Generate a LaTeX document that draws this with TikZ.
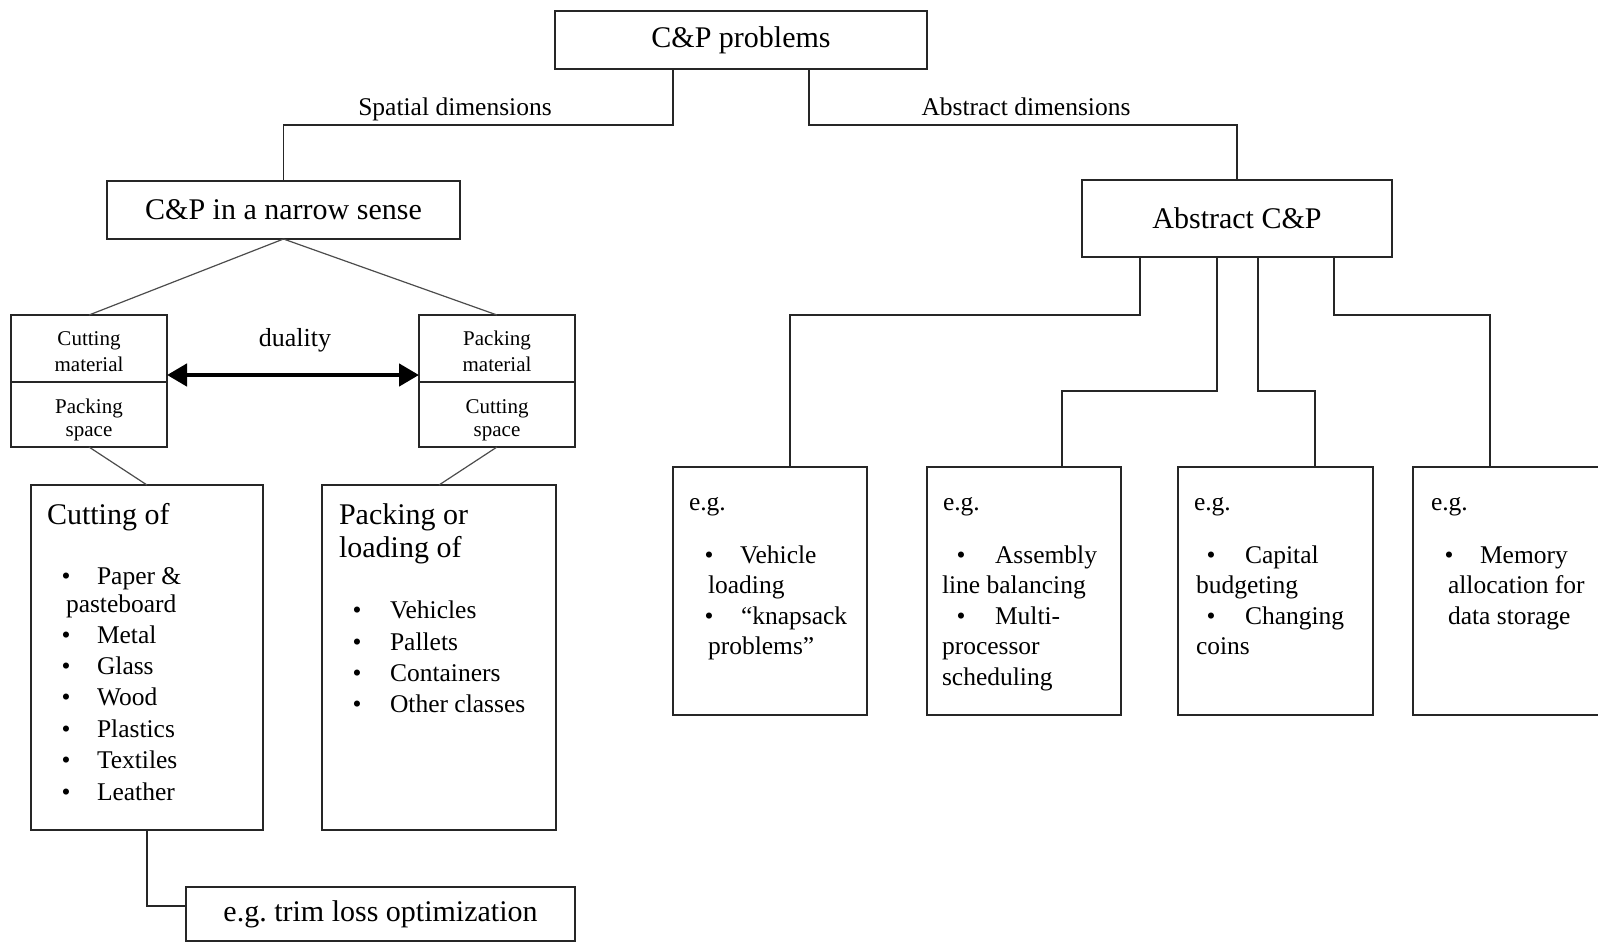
\documentclass[tikz,border=0pt]{standalone}
\usepackage{fontspec}
\setmainfont{Liberation Serif}
\usetikzlibrary{arrows.meta}
\begin{document}
\begin{tikzpicture}[x=1pt,y=-1pt,
  box/.style={draw=black!85, line width=1.5pt, rectangle, inner sep=0pt, outer sep=0pt},
  conn/.style={draw=black!85, line width=1.5pt},
  slant/.style={draw=black!70, line width=1.2pt},
  txt/.style={inner sep=0pt, outer sep=0pt, anchor=base west},
  ctr/.style={inner sep=0pt, outer sep=0pt, anchor=base},
  bul/.style={inner sep=0pt, outer sep=0pt, anchor=base},
  fhead/.style={font=\fontsize{30}{36}\selectfont},
  fitem/.style={font=\fontsize{25.5}{30}\selectfont},
  fsmall/.style={font=\fontsize{21}{25}\selectfont},
  duo/.style={line width=4.5pt, {Triangle[length=20pt,width=22pt]}-{Triangle[length=20pt,width=22pt]}}]

\useasboundingbox (0,0) rectangle (1598,943);
\clip (0,0) rectangle (1598,943);

% ---- boxes ----
\node[box, minimum width=372pt, minimum height=58pt, fhead] (top) at (741,40) {C\&P problems};
\node[box, minimum width=353pt, minimum height=58pt, fhead] (nar) at (283.5,210) {C\&P in a narrow sense};
\node[box, minimum width=310pt, minimum height=77pt, fhead] (abs) at (1237,218.5) {Abstract C\&P};
\node[box, minimum width=156pt, minimum height=132pt] (cm) at (89,381) {};
\node[box, minimum width=156pt, minimum height=132pt] (pm) at (497,381) {};
\node[box, minimum width=232pt, minimum height=345pt] (cut) at (147,657.5) {};
\node[box, minimum width=234pt, minimum height=345pt] (pk) at (439,657.5) {};
\node[box, minimum width=389pt, minimum height=54pt, fhead] (trim) at (380.5,914) {e.g.\ trim loss optimization};
\node[box, minimum width=194pt, minimum height=248pt] (eg1) at (770,591) {};
\node[box, minimum width=194pt, minimum height=248pt] (eg2) at (1024,591) {};
\node[box, minimum width=195pt, minimum height=248pt] (eg3) at (1275.5,591) {};
\node[box, minimum width=195pt, minimum height=248pt] (eg4) at (1510.5,591) {};

% ---- branch labels ----
\node[ctr, fitem] (spl) at (455,115) {Spatial dimensions};
\node[ctr, fitem] (abl) at (1026,115) {Abstract dimensions};

% ---- tree connectors ----
\coordinate (j1) at (673,125);
\coordinate (j2) at (809,125);
\draw[conn] (top.south -| j1) -- (j1) -| (nar.north);
\draw[conn] (top.south -| j2) -- (j2) -| (abs.north);

\draw[slant] (nar.south) -- (cm.north);
\draw[slant] (nar.south) -- (pm.north);
\draw[slant] (cm.south) -- (cut.north);
\draw[slant] (pm.south) -- (pk.north);

\coordinate (tj) at (0,906);
\draw[conn] (cut.south) |- (trim.west |- tj);

\coordinate (k1) at (1140,315);  \coordinate (k1b) at (790,315);
\coordinate (k2) at (1217,391);  \coordinate (k2b) at (1062,391);
\coordinate (k3) at (1258,391);  \coordinate (k3b) at (1315,391);
\coordinate (k4) at (1334,315);  \coordinate (k4b) at (1490,315);
\draw[conn] (abs.south -| k1) -- (k1) -- (k1b) -- (eg1.north -| k1b);
\draw[conn] (abs.south -| k2) -- (k2) -- (k2b) -- (eg2.north -| k2b);
\draw[conn] (abs.south -| k3) -- (k3) -- (k3b) -- (eg3.north -| k3b);
\draw[conn] (abs.south -| k4) -- (k4) -- (k4b) -- (eg4.north -| k4b);

% ---- duality boxes ----
\coordinate (dv) at (0,382);
\draw[conn] (cm.west |- dv) -- (cm.east |- dv);
\draw[conn] (pm.west |- dv) -- (pm.east |- dv);
\node[ctr, fsmall] (cm1) at (89,345) {Cutting};
\node[ctr, fsmall] (cm2) at (89,371) {material};
\node[ctr, fsmall] (cm3) at (89,413) {Packing};
\node[ctr, fsmall] (cm4) at (89,436) {space};
\node[ctr, fsmall] (pm1) at (497,345) {Packing};
\node[ctr, fsmall] (pm2) at (497,371) {material};
\node[ctr, fsmall] (pm3) at (497,413) {Cutting};
\node[ctr, fsmall] (pm4) at (497,436) {space};

\coordinate (dy) at (0,375);
\draw[duo] (cm.east |- dy) -- (pm.west |- dy);
\node[ctr, font=\fontsize{26}{30}\selectfont] (dual) at (295,346) {duality};

% ---- cutting list ----
\node[txt, fhead] (c0) at (47,524) {Cutting of};
\node[bul, fitem] (cb1) at (66,584) {•};
\node[txt, fitem] (c1) at (97,584) {Paper \&};
\node[txt, fitem] (c1b) at (66,612) {pasteboard};
\node[bul, fitem] (cb2) at (66,643) {•};
\node[txt, fitem] (c2) at (97,643) {Metal};
\node[bul, fitem] (cb3) at (66,674) {•};
\node[txt, fitem] (c3) at (97,674) {Glass};
\node[bul, fitem] (cb4) at (66,705) {•};
\node[txt, fitem] (c4) at (97,705) {Wood};
\node[bul, fitem] (cb5) at (66,737) {•};
\node[txt, fitem] (c5) at (97,737) {Plastics};
\node[bul, fitem] (cb6) at (66,768) {•};
\node[txt, fitem] (c6) at (97,768) {Textiles};
\node[bul, fitem] (cb7) at (66,800) {•};
\node[txt, fitem] (c7) at (97,800) {Leather};

% ---- packing list ----
\node[txt, fhead] (p0) at (339,524) {Packing or};
\node[txt, fhead] (p0b) at (339,557) {loading of};
\node[bul, fitem] (pb1) at (357,618) {•};
\node[txt, fitem] (p1) at (390,618) {Vehicles};
\node[bul, fitem] (pb2) at (357,650) {•};
\node[txt, fitem] (p2) at (390,650) {Pallets};
\node[bul, fitem] (pb3) at (357,681) {•};
\node[txt, fitem] (p3) at (390,681) {Containers};
\node[bul, fitem] (pb4) at (357,712) {•};
\node[txt, fitem] (p4) at (390,712) {Other classes};

% ---- abstract examples ----
\node[txt, fitem] (e1) at (689,510) {e.g.};
\node[bul, fitem] (e1b1) at (709,563) {•};
\node[txt, fitem] (e1a) at (740,563) {Vehicle};
\node[txt, fitem] (e1c) at (708,593) {loading};
\node[bul, fitem] (e1b2) at (709,624) {•};
\node[txt, fitem] (e1d) at (741,624) {“knapsack};
\node[txt, fitem] (e1e) at (708,654) {problems”};

\node[txt, fitem] (e2) at (943,510) {e.g.};
\node[bul, fitem] (e2b1) at (961,563) {•};
\node[txt, fitem] (e2a) at (995,563) {Assembly};
\node[txt, fitem] (e2c) at (942,593) {line balancing};
\node[bul, fitem] (e2b2) at (961,624) {•};
\node[txt, fitem] (e2d) at (995,624) {Multi-};
\node[txt, fitem] (e2e) at (942,654) {processor};
\node[txt, fitem] (e2f) at (942,685) {scheduling};

\node[txt, fitem] (e3) at (1194,510) {e.g.};
\node[bul, fitem] (e3b1) at (1211,563) {•};
\node[txt, fitem] (e3a) at (1245,563) {Capital};
\node[txt, fitem] (e3c) at (1196,593) {budgeting};
\node[bul, fitem] (e3b2) at (1211,624) {•};
\node[txt, fitem] (e3d) at (1245,624) {Changing};
\node[txt, fitem] (e3e) at (1196,654) {coins};

\node[txt, fitem] (e4) at (1431,510) {e.g.};
\node[bul, fitem] (e4b1) at (1449,563) {•};
\node[txt, fitem] (e4a) at (1480,563) {Memory};
\node[txt, fitem] (e4c) at (1448,593) {allocation for};
\node[txt, fitem] (e4d) at (1448,624) {data storage};
\end{tikzpicture}
\end{document}
